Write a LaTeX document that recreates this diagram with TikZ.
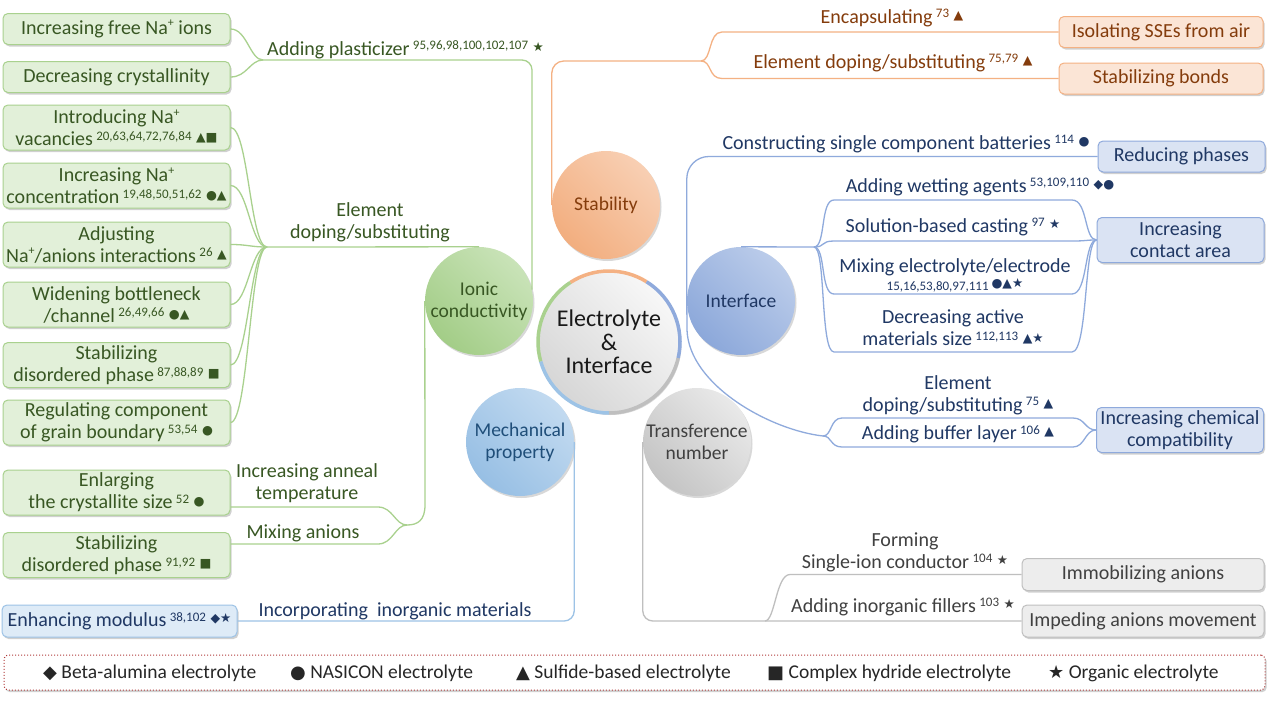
\documentclass[tikz,border=0pt]{standalone}
\usepackage{fontspec}
\setmainfont{Carlito}
\newfontfamily\symf{DejaVu Sans}
\usetikzlibrary{shadows,calc}
\definecolor{gline}{HTML}{A9D18E}
\definecolor{gfill}{HTML}{E2F0D9}
\definecolor{gtext}{HTML}{385723}
\definecolor{gc1}{HTML}{C9E3B8}
\definecolor{gc2}{HTML}{A3CD87}
\definecolor{oline}{HTML}{F4B183}
\definecolor{ofill}{HTML}{FBE5D6}
\definecolor{otext}{HTML}{843C0C}
\definecolor{oc1}{HTML}{F8CFB3}
\definecolor{oc2}{HTML}{F2AE7F}
\definecolor{bline}{HTML}{8FAADC}
\definecolor{bfill}{HTML}{DAE3F3}
\definecolor{btext}{HTML}{203864}
\definecolor{bc1}{HTML}{BBCCEA}
\definecolor{bc2}{HTML}{8CA8DA}
\definecolor{mline}{HTML}{9DC3E6}
\definecolor{mfill}{HTML}{DEEBF7}
\definecolor{mtext}{HTML}{1F4E79}
\definecolor{mc1}{HTML}{C2DAF0}
\definecolor{mc2}{HTML}{97BFE4}
\definecolor{tline}{HTML}{BFBFBF}
\definecolor{tfill}{HTML}{EDEDED}
\definecolor{ttext}{HTML}{404040}
\definecolor{tc1}{HTML}{E9E9E9}
\definecolor{tc2}{HTML}{C4C4C4}
\definecolor{legtext}{HTML}{262626}
\definecolor{legline}{HTML}{B03A3A}
\newcommand\syms[1]{\raisebox{0.4ex}{\symf\fontsize{12.5}{12.5}\selectfont #1}}
\newcommand\sref[2]{\,\raisebox{0.55ex}{\fontsize{13}{13}\selectfont #1}\ \syms{#2}}
\newcommand\Nap{Na\raisebox{0.75ex}{\fontsize{12}{12}\selectfont +}}
\newcommand\lsym[1]{{\symf\fontsize{18}{18}\selectfont #1}}
\begin{document}
\begin{tikzpicture}[x=1pt,y=-1pt,
  every node/.style={font=\fontsize{20}{22}\selectfont, inner sep=0pt},
  conn/.style={line width=1.3pt},
  gl/.style={conn, draw=gline},
  ol/.style={conn, draw=oline},
  bl/.style={conn, draw=bline},
  ml/.style={conn, draw=mline},
  tl/.style={conn, draw=tline},
  shad/.style={drop shadow={shadow xshift=1.5pt, shadow yshift=-2pt, opacity=0.3, fill=black!60}},
  box/.style={rounded corners=5pt, line width=1pt, align=center, shad, inner xsep=2pt},
  gbox/.style={box, draw=gline, fill=gfill, text=gtext, minimum width=227pt},
  obox/.style={box, draw=oline, fill=ofill, text=otext, minimum width=204pt, minimum height=31pt},
  bbox/.style={box, draw=bline, fill=bfill, text=btext, minimum width=167pt},
  mbox/.style={box, draw=mline, fill=mfill, text=btext, minimum width=235pt, minimum height=32pt},
  tbox/.style={box, draw=tline, fill=tfill, text=ttext, minimum width=242pt, minimum height=32pt},
  one/.style={minimum height=31pt},
  two/.style={minimum height=45pt},
  topic/.style={circle, minimum size=108pt, align=center, font=\fontsize{19.5}{22}\selectfont,
    drop shadow={shadow xshift=1.5pt, shadow yshift=-2pt, opacity=0.25, fill=black!60}},
  glab/.style={text=gtext, align=center},
  blab/.style={text=btext, align=center},
  olab/.style={text=otext, align=center},
  tlab/.style={text=ttext, align=center},
  leg/.style={text=legtext, anchor=west, font=\fontsize{19.5}{22}\selectfont}
]
\fill[white] (0,0) rectangle (1270,704);
\useasboundingbox (0,0) rectangle (1270,704);

% ---------- central node ----------
\node[circle, minimum size=142pt, top color=black!3, bottom color=black!16, shading angle=-45, align=center,
  font=\fontsize{24}{23.5}\selectfont, text=black!90,
  drop shadow={shadow xshift=1.5pt, shadow yshift=-2pt, opacity=0.25, fill=black!60}] (ec) at (609,342) {Electrolyte\\\&\\Interface};
\foreach \a/\b/\c in {58/123/oline, 123/196/gline, 196/270/mline, 270/347/tline, 347/418/bline}
  \draw[line width=3.5pt, draw=\c] ($(ec.center)+(-\a:71)$) arc[start angle=-\a, end angle=-\b, radius=71];

% ---------- topic circles ----------
\node[topic, top color=gc1, bottom color=gc2, shading angle=-45, text=gtext] (ionic) at (479,301) {Ionic\\conductivity};
\node[topic, top color=oc1, bottom color=oc2, shading angle=-45, text=otext] (stab) at (606,205) {Stability};
\node[topic, top color=bc1, bottom color=bc2, shading angle=-45, text=btext] (intf) at (741,301) {Interface};
\node[topic, top color=mc1, bottom color=mc2, shading angle=-45, text=mtext] (mech) at (520,442) {Mechanical\\property};
\node[topic, top color=tc1, bottom color=tc2, shading angle=-45, text=ttext] (tn) at (697,442) {Transference\\number};

% ---------- green (ionic conductivity) ----------
\node[gbox, one] (g1) at (116.5,29) {Increasing free \Nap{} ions};
\node[gbox, one] (g2) at (116.5,77) {Decreasing crystallinity};
\node[gbox, two] (g3) at (116.5,127.5) {Introducing \Nap\\vacancies\sref{20,63,64,72,76,84}{▲■}};
\node[gbox, two] (g4) at (116.5,185.5) {Increasing \Nap\\concentration\sref{19,48,50,51,62}{●▲}};
\node[gbox, two] (g5) at (116.5,244.5) {Adjusting\\\Nap/anions interactions\sref{26}{▲}};
\node[gbox, two] (g6) at (116.5,304.5) {Widening bottleneck\\/channel\sref{26,49,66}{●▲}};
\node[gbox, two] (g7) at (116.5,365) {Stabilizing\\disordered phase\sref{87,88,89}{■}};
\node[gbox, two] (g8) at (116.5,422.5) {Regulating component\\of grain boundary\sref{53,54}{●}};
\node[gbox, two] (g9) at (116.5,492.5) {Enlarging\\the crystallite size\sref{52}{●}};
\node[gbox, two] (g10) at (116.5,555) {Stabilizing\\disordered phase\sref{91,92}{■}};

\node[glab, anchor=base west] (lpl) at (267,55) {Adding plasticizer\sref{95,96,98,100,102,107}{★}};
\node[glab] (lel) at (370,222) {Element\\doping/substituting};
\node[glab] (lan) at (307,483) {Increasing anneal\\temperature};
\node[glab] (lmx) at (303,533) {Mixing anions};

\coordinate (fpl) at (263,60);
\coordinate (fel) at (267,247);
\coordinate (fjn) at (407,525);
\coordinate (u9) at (0,507);
\coordinate (u10) at (0,544);

\draw[gl, rounded corners=10pt] (ionic.12) -- (ionic.12 |- fpl) -- (fpl);
\draw[gl] (fpl) .. controls (250,60) and (247,29) .. (g1.east);
\draw[gl] (fpl) .. controls (250,60) and (247,77) .. (g2.east);
\draw[gl] (ionic.north) -- (fel);
\foreach \n in {g3,g4,g5,g6,g7,g8}
  \draw[gl] (fel) .. controls (250,247) and ($(\n.east)+(18,0)$) .. (\n.east);
\draw[gl] (ionic.west) -- (425,505) .. controls (425,520) and (418,525) .. (fjn);
\draw[gl] (fjn) .. controls (395,525) and (393,507) .. (378,507) -- (g9.east |- u9);
\draw[gl] (fjn) .. controls (395,525) and (393,544) .. (378,544) -- (g10.east |- u10);

% ---------- orange (stability) ----------
\node[obox] (o1) at (1161,32) {Isolating SSEs from air};
\node[obox] (o2) at (1161,78.5) {Stabilizing bonds};
\node[olab] (lenc) at (892,18) {Encapsulating\sref{73}{▲}};
\node[olab] (lodp) at (893,63) {Element doping/substituting\sref{75,79}{▲}};
\coordinate (fst) at (701,61);
\draw[ol, rounded corners=12pt] (stab.west) -- (stab.west |- fst) -- (fst);
\draw[ol] (fst) .. controls (712,61) and (708,32) .. (722,32) -- (o1.west);
\draw[ol] (fst) .. controls (712,61) and (708,78.5) .. (722,78.5) -- (o2.west);

% ---------- blue (interface) ----------
\node[bbox, one] (rp) at (1181.5,156.5) {Reducing phases};
\node[bbox, two] (ca) at (1180.5,240) {Increasing\\contact area};
\node[bbox, two] (cc) at (1180,430) {Increasing chemical\\compatibility};
\node[blab] (lcs) at (906,144) {Constructing single component batteries\sref{114}{●}};
\node[blab] (lwa) at (980,187) {Adding wetting agents\sref{53,109,110}{◆●}};
\node[blab] (lsb) at (953,227) {Solution-based casting\sref{97}{★}};
\node[blab] (lme) at (955,275) {Mixing electrolyte/electrode\\[-4pt]{\fontsize{13}{13}\selectfont 15,16,53,80,97,111\ \syms{●▲★}}};
\node[blab] (lda) at (953,328) {Decreasing active\\materials size\sref{112,113}{▲★}};
\node[blab] (led) at (958,395) {Element\\doping/substituting\sref{75}{▲}};
\node[blab] (lbl) at (958,434) {Adding buffer layer\sref{106}{▲}};

\coordinate (fic) at (814,247);
\coordinate (fcc) at (823,436);
\draw[bl] (intf.north) -- (fic);
\foreach \y in {200,241,294,352}
  \draw[bl] (fic) .. controls (826,247) and (820,\y) .. (834,\y) -- (1072,\y) .. controls (1088,\y) and (1084,240) .. (ca.west);
\draw[bl, rounded corners=22pt] (intf.west) -- (intf.west |- rp.west) -- (rp.west);
\draw[bl] (intf.west) -- (687,330) .. controls (689,385) and (770,430) .. (fcc);
\foreach \y in {418,447}
  \draw[bl] (fcc) .. controls (832,436) and (830,\y) .. (842,\y) -- (1073,\y) .. controls (1085,\y) and (1085,430) .. (cc.west);

% ---------- light blue (mechanical) ----------
\node[mbox] (em) at (119.5,621) {Enhancing modulus\sref{38,102}{◆★}};
\node[blab] (lin) at (395,611) {Incorporating\ \ inorganic materials};
\draw[ml, rounded corners=10pt] (mech.east) -- (mech.east |- em.east) -- (em.east);

% ---------- gray (transference number) ----------
\node[tbox] (ia) at (1143,574.5) {Immobilizing anions};
\node[tbox] (im) at (1143,621) {Impeding anions movement};
\node[tlab] (lsi) at (905,552) {Forming\\Single-ion conductor\sref{104}{★}};
\node[tlab] (laf) at (903,607) {Adding inorganic fillers\sref{103}{★}};
\coordinate (ftn) at (765,621);
\draw[tl, rounded corners=10pt] (tn.west) -- (tn.west |- im.west) -- (im.west);
\draw[tl] (ftn) .. controls (775,621) and (776,574.5) .. (790,574.5) -- (ia.west);

% ---------- legend ----------
\node[draw=legline, dotted, line width=1pt, rounded corners=4pt, fill=white, minimum width=1261pt, minimum height=35pt, shad] (leg) at (634.5,672.5) {};
\node[leg] (k1) at (43,673) {\lsym{◆} Beta-alumina electrolyte};
\node[leg] (k2) at (290,673) {\lsym{●} NASICON electrolyte};
\node[leg] (k3) at (516,673) {\lsym{▲} Sulfide-based electrolyte};
\node[leg] (k4) at (767,673) {\lsym{■} Complex hydride electrolyte};
\node[leg] (k5) at (1048,673) {\lsym{★} Organic electrolyte};
\end{tikzpicture}
\end{document}
